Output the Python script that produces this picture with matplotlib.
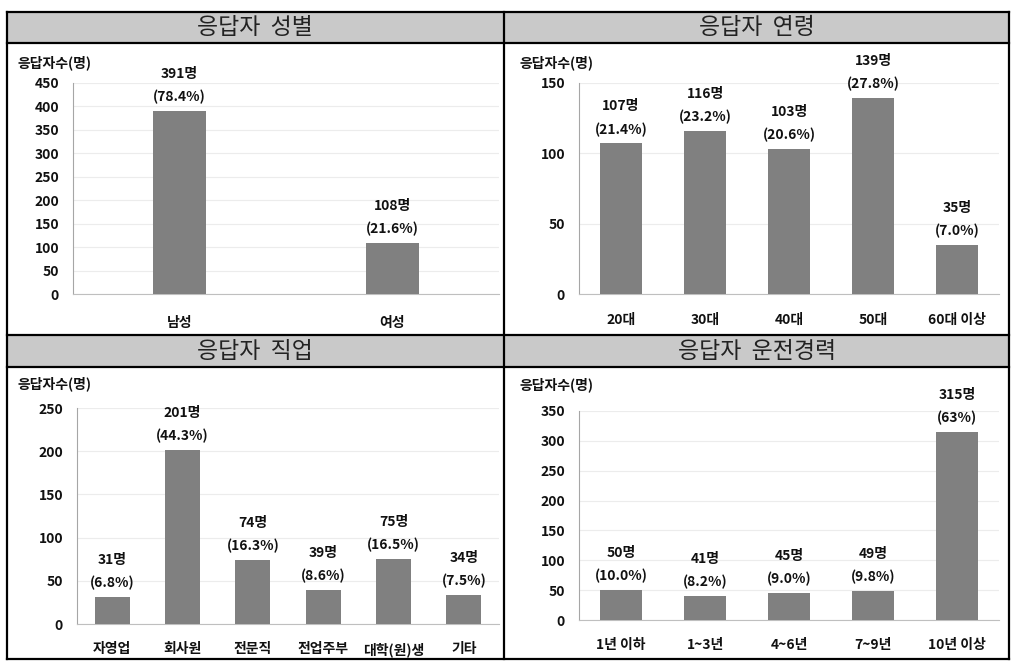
import matplotlib
matplotlib.use("Agg")
import matplotlib.pyplot as plt
from matplotlib.patches import Rectangle
from matplotlib.lines import Line2D

plt.rcParams['font.family'] = ['Noto Sans CJK KR', 'DejaVu Sans']

W, H = 1014, 663

# data
gender_cats = ["남성", "여성"]
gender_counts = [391, 108]
gender_pcts = ["78.4%", "21.6%"]

age_cats = ["20대", "30대", "40대", "50대", "60대 이상"]
age_counts = [107, 116, 103, 139, 35]
age_pcts = ["21.4%", "23.2%", "20.6%", "27.8%", "7.0%"]

job_cats = ["자영업", "회사원", "전문직", "전업주부", "대학(원)생", "기타"]
job_counts = [31, 201, 74, 39, 75, 34]
job_pcts = ["6.8%", "44.3%", "16.3%", "8.6%", "16.5%", "7.5%"]

career_cats = ["1년 이하", "1~3년", "4~6년", "7~9년", "10년 이상"]
career_counts = [50, 41, 45, 49, 315]
career_pcts = ["10.0%", "8.2%", "9.0%", "9.8%", "63%"]

fig = plt.figure(figsize=(W / 100, H / 100), dpi=100)


def fx(x):
    return x / W


def fy(y):
    return 1 - y / H


# table frame and header cells
for top, bot in [(12, 43), (335, 367)]:
    fig.patches.append(Rectangle((fx(7), fy(bot)), fx(1009) - fx(7), fy(top) - fy(bot),
                                 transform=fig.transFigure, facecolor="#c9c9c9",
                                 edgecolor="none", zorder=0))
lines = [((7, 1009), (12, 12)), ((7, 1009), (659, 659)), ((7, 7), (12, 659)),
         ((1009, 1009), (12, 659)), ((504, 504), (12, 659)), ((7, 1009), (43, 43)),
         ((7, 1009), (335, 335)), ((7, 1009), (367, 367))]
for xs, ys in lines:
    fig.lines.append(Line2D([fx(x) for x in xs], [fy(y) for y in ys],
                            transform=fig.transFigure, color="black", lw=1.6, zorder=5))

titles = [("응답자  성별", 255, 28), ("응답자  연령", 757, 28),
          ("응답자  직업", 255, 351), ("응답자  운전경력", 757, 351)]
for t, x, y in titles:
    fig.text(fx(x), fy(y), t, ha="center", va="center", fontsize=16.5,
             fontweight="light", color="#222222")

panels = [
    (gender_cats, gender_counts, gender_pcts, 450, (73, 499, 83, 294), 0.25, (18, 63), 16),
    (age_cats, age_counts, age_pcts, 150, (579, 999, 83, 294), 0.5, (520, 63), 14),
    (job_cats, job_counts, job_pcts, 250, (77, 499, 408, 624), 0.5, (18, 384), 13),
    (career_cats, career_counts, career_pcts, 350, (579, 999, 411, 620), 0.5, (520, 385), 13),
]

for cats, counts, pcts, ymax, (x0, x1, y0, y1), bw, (lx, ly), xpad in panels:
    ax = fig.add_axes([fx(x0), fy(y1), fx(x1) - fx(x0), fy(y0) - fy(y1)])
    pos = range(len(cats))
    ax.bar(pos, counts, width=bw, color="#808080", zorder=3)
    ax.set_xlim(-0.5, len(cats) - 0.5)
    ax.set_ylim(0, ymax)
    ax.set_yticks(range(0, ymax + 1, 50))
    ax.set_xticks(list(pos))
    ax.set_xticklabels(cats)
    ax.grid(axis="y", color="#ececec", lw=0.8, zorder=0)
    for s in ["top", "right"]:
        ax.spines[s].set_visible(False)
    ax.spines["left"].set_color("#a6a6a6")
    ax.spines["bottom"].set_color("#bfbfbf")
    ax.tick_params(axis="both", length=0, labelsize=10)
    ax.tick_params(axis="y", pad=10)
    ax.tick_params(axis="x", pad=xpad)
    for lab in ax.get_xticklabels() + ax.get_yticklabels():
        lab.set_fontweight("bold")
        lab.set_color("#111111")
    for i, (c, p) in enumerate(zip(counts, pcts)):
        ax.annotate(f"{c}명", (i, c), xytext=(0, 37 * 0.72), textcoords="offset points",
                    ha="center", va="center", fontsize=10, fontweight="bold",
                    color="#111111", annotation_clip=False)
        ax.annotate(f"({p})", (i, c), xytext=(0, 14 * 0.72), textcoords="offset points",
                    ha="center", va="center", fontsize=10, fontweight="bold",
                    color="#111111", annotation_clip=False)
    fig.text(fx(lx), fy(ly), "응답자수(명)", ha="left", va="center", fontsize=10,
             fontweight="bold", color="#111111")

fig.savefig("out.png", dpi=100)
